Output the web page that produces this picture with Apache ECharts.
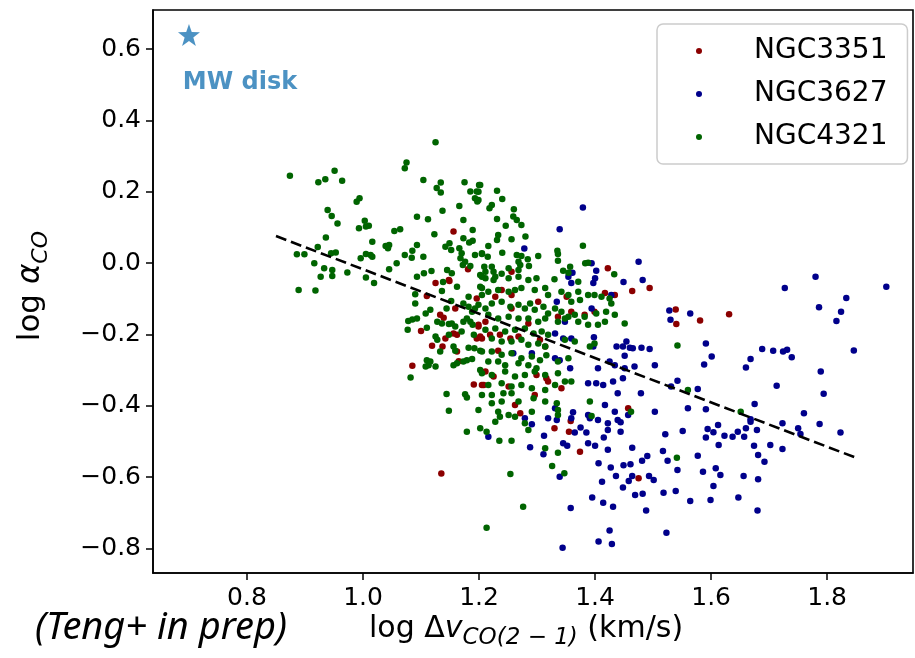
<!DOCTYPE html>
<html>
<head>
<meta charset="utf-8">
<script src="https://cdn.jsdelivr.net/npm/echarts@6/dist/echarts.min.js"></script>
<style>
html,body{margin:0;padding:0;background:#fff;}
#chart{width:915px;height:658px;}
</style>
</head>
<body>
<div id="chart"></div>
<script>
const seriesNames = ['NGC3351', 'NGC3627', 'NGC4321'];
const xTicks = [0.8, 1.0, 1.2, 1.4, 1.6, 1.8];
const yTicks = [-0.8, -0.6, -0.4, -0.2, 0.0, 0.2, 0.4, 0.6];
const mwDisk = [[0.700, 0.640]];
const fitX = [0.85, 1.85];
const fitY = [0.076, -0.546];

const ngc3351 = [
[1.156,0.089],[1.181,-0.017],[1.148,-0.047],[1.422,-0.014],[1.256,-0.024],
[1.125,-0.056],[1.149,-0.050],[1.110,-0.092],[1.159,-0.127],[1.196,-0.099],[1.100,-0.190],[1.139,-0.153],[1.133,-0.145],[1.162,-0.201],[1.156,-0.197],[1.199,-0.178],[1.196,-0.211],[1.205,-0.211],[1.142,-0.211],[1.119,-0.232],[1.137,-0.234],[1.162,-0.248],[1.085,-0.288],[1.165,-0.275],[1.191,-0.340],[1.205,-0.342],
[1.464,-0.078],[1.494,-0.070],[1.228,-0.094],[1.239,-0.075],[1.256,-0.089],[1.302,-0.108],[1.351,-0.094],[1.417,-0.084],[1.434,-0.089],[1.199,-0.173],[1.211,-0.164],[1.256,-0.127],[1.285,-0.169],[1.336,-0.150],[1.359,-0.136],[1.382,-0.145],[1.399,-0.136],[1.202,-0.206],[1.219,-0.201],[1.236,-0.201],[1.254,-0.211],[1.268,-0.206],[1.305,-0.215],[1.233,-0.246],[1.314,-0.234],[1.211,-0.304],[1.225,-0.318],[1.251,-0.346],[1.299,-0.314],[1.316,-0.323],[1.319,-0.332],[1.342,-0.351],[1.208,-0.342],[1.262,-0.398],[1.296,-0.370],[1.271,-0.421],[1.457,-0.407],
[1.539,-0.130],[1.540,-0.171],
[1.581,-0.161],[1.631,-0.143],[1.135,-0.590],[1.330,-0.463],[1.355,-0.473],[1.358,-0.443],[1.374,-0.529],[1.475,-0.603]
];

const ngc3627 = [
[1.278,0.041],[1.379,0.156],[1.339,0.095],[1.394,0.000],[1.402,-0.021],[1.475,0.004],[1.361,-0.027],[1.354,-0.038],[1.400,-0.042],[1.482,-0.047],[1.780,-0.038],
[1.359,-0.056],[1.397,-0.056],[1.449,-0.053],[1.334,-0.108],[1.394,-0.127],[1.428,-0.089],[1.348,-0.164],[1.331,-0.197],[1.345,-0.211],[1.359,-0.211],[1.398,-0.208],[1.397,-0.234],[1.437,-0.234],[1.448,-0.234],[1.460,-0.237],[1.465,-0.239],[1.480,-0.237],[1.494,-0.241],[1.451,-0.260],[1.454,-0.220],[1.259,-0.253],[1.291,-0.253],[1.331,-0.267],[1.339,-0.272],[1.357,-0.295],[1.405,-0.295],[1.425,-0.276],[1.434,-0.286],[1.451,-0.295],[1.468,-0.290],[1.503,-0.286],[1.388,-0.337],[1.402,-0.337],[1.414,-0.342],[1.431,-0.332],[1.448,-0.323],[1.479,-0.365],[1.439,-0.365],[1.542,-0.330],[1.531,-0.346],[1.331,-0.407],[1.362,-0.418],[1.388,-0.426],[1.417,-0.398],[1.434,-0.417],[1.457,-0.426],[1.503,-0.417],[1.560,-0.407],[1.279,-0.435],[1.319,-0.435],[1.359,-0.435],[1.391,-0.435],[1.439,-0.440],
[1.528,-0.133],[1.530,-0.159],
[1.727,-0.070],[1.902,-0.066],[1.833,-0.098],[1.824,-0.136],[1.816,-0.162],[1.786,-0.124],[1.564,-0.141],[1.591,-0.225],[1.601,-0.262],[1.588,-0.284],[1.688,-0.241],[1.707,-0.246],[1.724,-0.248],[1.731,-0.243],[1.739,-0.264],[1.668,-0.269],[1.660,-0.293],[1.846,-0.245],[1.789,-0.304],[1.713,-0.344],[1.794,-0.366],[1.577,-0.353],[1.675,-0.395],[1.760,-0.421],[1.591,-0.410],[1.668,-0.438],
[1.216,-0.487],[1.291,-0.452],[1.334,-0.440],[1.365,-0.475],[1.375,-0.461],[1.385,-0.475],[1.405,-0.440],[1.422,-0.449],[1.422,-0.468],[1.444,-0.446],[1.444,-0.473],[1.312,-0.484],[1.345,-0.505],[1.352,-0.512],[1.388,-0.505],[1.400,-0.512],[1.415,-0.489],[1.422,-0.523],[1.464,-0.518],[1.517,-0.527],[1.551,-0.471],[1.521,-0.480],[1.288,-0.516],[1.311,-0.536],[1.339,-0.599],[1.406,-0.561],[1.427,-0.573],[1.436,-0.597],[1.449,-0.567],[1.461,-0.564],[1.481,-0.554],[1.490,-0.541],[1.525,-0.554],[1.542,-0.580],[1.464,-0.597],[1.458,-0.611],[1.448,-0.629],[1.412,-0.613],[1.493,-0.597],[1.501,-0.608],[1.469,-0.650],[1.482,-0.647],[1.518,-0.644],[1.539,-0.639],[1.564,-0.667],[1.395,-0.657],[1.414,-0.672],[1.431,-0.683],[1.358,-0.687],[1.488,-0.694],[1.425,-0.750],[1.406,-0.781],[1.429,-0.788],[1.523,-0.756],[1.344,-0.798],
[1.668,-0.445],[1.660,-0.463],[1.679,-0.468],[1.646,-0.473],[1.637,-0.487],[1.657,-0.487],[1.623,-0.484],[1.612,-0.454],[1.604,-0.474],[1.594,-0.465],[1.591,-0.489],[1.613,-0.510],[1.674,-0.512],[1.681,-0.538],[1.692,-0.557],[1.702,-0.510],[1.723,-0.521],[1.723,-0.449],[1.750,-0.463],[1.754,-0.479],[1.787,-0.451],[1.823,-0.475],[1.577,-0.540],[1.608,-0.575],[1.616,-0.594],[1.586,-0.585],[1.604,-0.625],[1.656,-0.597],[1.681,-0.606],[1.647,-0.657],[1.599,-0.664],[1.680,-0.694]
];

const ngc4321 = [
[1.125,0.339],[0.874,0.245],[0.951,0.259],[0.923,0.227],[0.935,0.235],[0.964,0.231],[1.075,0.282],[1.072,0.266],[1.104,0.233],[1.134,0.226],[1.127,0.211],[1.134,0.198],[1.175,0.227],[1.200,0.219],[1.185,0.201],[1.196,0.201],[1.193,0.182],[1.197,0.173],[0.994,0.182],[0.989,0.172],[0.939,0.149],[0.946,0.132],[0.956,0.111],[1.003,0.119],[0.993,0.098],[1.005,0.103],[1.010,0.105],[1.093,0.130],[1.112,0.123],[1.137,0.147],[1.166,0.160],[1.173,0.121],[1.189,0.093],[1.123,0.081],[1.054,0.090],[1.064,0.095],[0.936,0.072],[1.016,0.060],[1.039,0.048],[1.045,0.051],[1.043,0.042],[1.093,0.051],[1.085,0.035],[1.072,0.023],[1.084,0.015],[1.104,0.018],[1.142,0.046],[1.149,0.056],[1.152,0.037],[1.166,0.042],[1.170,0.028],[1.168,0.014],[1.176,0.004],[1.172,-0.005],[1.173,0.070],[1.183,0.058],[1.189,0.063],[1.193,0.023],[1.205,0.028],[0.886,0.025],[0.899,0.025],[0.922,0.045],[0.945,0.028],[0.953,0.030],[0.916,0.000],[0.996,0.014],[1.005,0.026],[1.013,0.023],[1.016,0.018],[1.058,0.000],[1.045,-0.017],[0.973,-0.026],[0.933,-0.014],[0.947,-0.019],[0.927,-0.038],[0.947,-0.036],[1.005,-0.040],[1.093,-0.038],[1.105,-0.028],[1.118,-0.022],[1.145,-0.019],[1.153,-0.028],[1.185,-0.008],[1.202,-0.033],
[1.202,0.219],[1.199,0.200],[1.199,0.177],[1.231,0.203],[1.240,0.180],[1.222,0.163],[1.218,0.154],[1.260,0.151],[1.259,0.131],[1.265,0.121],[1.273,0.107],[1.231,0.124],[1.246,0.105],[1.233,0.079],[1.231,0.065],[1.256,0.067],[1.280,0.075],[1.216,0.048],[1.205,0.026],[1.215,0.018],[1.240,0.029],[1.265,0.023],[1.273,0.020],[1.284,0.011],[1.268,0.004],[1.271,-0.005],[1.268,-0.019],[1.286,-0.008],[1.302,0.020],[1.335,0.035],[1.336,0.026],[1.336,0.007],[1.379,0.049],[1.383,0.000],[1.388,0.001],[1.433,-0.031],[1.357,-0.010],[1.354,-0.027],[1.345,-0.021],[1.209,-0.010],[1.222,-0.010],[1.225,-0.024],[1.211,-0.024],[1.205,-0.038],[1.228,-0.038],[1.239,-0.030],[1.251,-0.014],[1.299,-0.042],[1.330,-0.045],
[0.889,-0.075],[0.918,-0.077],[1.019,-0.056],[1.138,-0.053],[1.162,-0.066],[1.090,-0.087],[1.090,-0.113],[1.136,-0.078],[1.152,-0.106],[1.144,-0.127],[1.173,-0.113],[1.182,-0.094],[1.182,-0.122],[1.188,-0.136],[1.193,-0.127],[1.205,-0.089],[1.202,-0.066],[1.108,-0.141],[1.116,-0.131],[1.078,-0.162],[1.085,-0.158],[1.093,-0.155],[1.077,-0.187],[1.110,-0.181],[1.128,-0.164],[1.136,-0.169],[1.148,-0.171],[1.153,-0.169],[1.159,-0.178],[1.170,-0.192],[1.173,-0.164],[1.179,-0.155],[1.185,-0.164],[1.189,-0.173],[1.191,-0.201],[1.125,-0.206],[1.128,-0.215],[1.148,-0.201],[1.133,-0.248],[1.156,-0.234],[1.159,-0.246],[1.182,-0.237],[1.192,-0.239],[1.202,-0.246],[1.082,-0.321],[1.110,-0.272],[1.116,-0.276],[1.108,-0.290],[1.113,-0.286],[1.125,-0.290],[1.156,-0.286],[1.162,-0.281],[1.173,-0.276],[1.179,-0.272],[1.188,-0.269],[1.202,-0.300],[1.144,-0.367],[1.176,-0.368],[1.179,-0.377],[1.205,-0.370],[1.148,-0.414],
[1.211,-0.042],[1.225,-0.047],[1.251,-0.042],[1.268,-0.038],[1.285,-0.047],[1.371,-0.052],
[1.205,-0.070],[1.216,-0.080],[1.233,-0.075],[1.251,-0.080],[1.262,-0.075],[1.273,-0.070],[1.296,-0.075],[1.314,-0.070],[1.319,-0.089],[1.342,-0.080],[1.354,-0.089],[1.371,-0.080],[1.374,-0.103],[1.359,-0.108],[1.388,-0.089],[1.399,-0.089],[1.411,-0.094],[1.425,-0.099],[1.428,-0.113],
[1.199,-0.117],[1.211,-0.127],[1.222,-0.113],[1.239,-0.108],[1.254,-0.122],[1.268,-0.117],[1.279,-0.127],[1.288,-0.113],[1.296,-0.131],[1.311,-0.122],[1.319,-0.141],[1.331,-0.127],[1.342,-0.136],[1.354,-0.150],[1.365,-0.145],[1.382,-0.150],[1.402,-0.141],[1.419,-0.136],[1.434,-0.145],[1.451,-0.169],
[1.216,-0.145],[1.233,-0.155],[1.251,-0.150],[1.268,-0.155],[1.285,-0.155],[1.302,-0.164],[1.314,-0.155],[1.336,-0.164],[1.348,-0.155],[1.371,-0.164],[1.388,-0.173],[1.405,-0.173],[1.417,-0.164],
[1.211,-0.187],[1.228,-0.183],[1.245,-0.192],[1.262,-0.187],[1.279,-0.183],[1.294,-0.197],[1.308,-0.192],[1.319,-0.201],[1.348,-0.215],[1.365,-0.220],[1.222,-0.211],[1.239,-0.220],[1.256,-0.220],[1.273,-0.215],[1.285,-0.229],[1.302,-0.225],[1.314,-0.234],[1.391,-0.234],[1.399,-0.225],[1.542,-0.231],
[1.205,-0.248],[1.222,-0.248],[1.239,-0.257],[1.256,-0.253],[1.273,-0.267],[1.291,-0.262],[1.305,-0.272],[1.316,-0.258],[1.216,-0.276],[1.233,-0.276],[1.245,-0.286],[1.268,-0.281],[1.285,-0.286],[1.299,-0.295],[1.336,-0.276],[1.354,-0.267],
[1.205,-0.309],[1.222,-0.314],[1.245,-0.304],[1.262,-0.318],[1.279,-0.314],[1.296,-0.304],[1.314,-0.314],[1.336,-0.309],[1.348,-0.332],[1.359,-0.332],[1.216,-0.342],[1.239,-0.337],[1.256,-0.346],[1.273,-0.342],[1.291,-0.351],[1.314,-0.356],[1.331,-0.342],[1.560,-0.356],
[1.222,-0.370],[1.242,-0.365],[1.256,-0.365],[1.222,-0.393],[1.239,-0.388],[1.268,-0.388],[1.294,-0.379],[1.314,-0.388],[1.334,-0.393],[1.336,-0.412],[1.233,-0.417],[1.251,-0.426],[1.291,-0.417],[1.336,-0.426],[1.199,-0.412],[1.391,-0.388],[1.462,-0.417],[1.651,-0.417],
[1.179,-0.473],[1.202,-0.463],[1.213,-0.473],[1.228,-0.445],[1.236,-0.431],[1.262,-0.431],[1.279,-0.449],[1.285,-0.468],[1.235,-0.498],[1.256,-0.498],[1.394,-0.429],[1.314,-0.519],[1.336,-0.532],[1.326,-0.569],[1.347,-0.589],[1.254,-0.591],[1.541,-0.546],[1.276,-0.683],[1.213,-0.742]
];

const colors = ['#8b0000', '#00008b', '#006400'];
const tickFmt = v => Number(v).toFixed(1).replace('-', '\u2212');
const font = 'DejaVu Sans';

const chart = echarts.init(document.getElementById('chart'), null, {renderer: 'canvas'});
const scatterBase = (name, data, color) => ({
  name: name, type: 'scatter', data: data, symbol: 'circle', symbolSize: 6.5,
  itemStyle: {color: color, opacity: 1}, z: 3, animation: false
});

chart.setOption({
  animation: false,
  backgroundColor: '#fff',
  grid: {left: 153, right: 2, top: 10, bottom: 85, show: true, borderColor: '#000', borderWidth: 1.6, backgroundColor: 'transparent'},
  xAxis: {
    type: 'value', min: 0.638, max: 1.948,
    axisLine: {show: true, onZero: false, lineStyle: {color: '#000', width: 1.6}},
    axisTick: {show: true, length: 7, lineStyle: {color: '#000', width: 1.5}, customValues: xTicks},
    axisLabel: {color: '#000', fontSize: 25, fontFamily: font, margin: 13, customValues: xTicks, formatter: tickFmt},
    splitLine: {show: false}
  },
  yAxis: {
    type: 'value', min: -0.869, max: 0.710,
    axisLine: {show: true, onZero: false, lineStyle: {color: '#000', width: 1.6}},
    axisTick: {show: true, length: 7, lineStyle: {color: '#000', width: 1.5}, customValues: yTicks},
    axisLabel: {color: '#000', fontSize: 25, fontFamily: font, margin: 12, customValues: yTicks, formatter: tickFmt},
    splitLine: {show: false}
  },
  legend: {
    data: seriesNames,
    orient: 'vertical', left: 657, top: 24,
    padding: [13, 20, 13, 39], itemGap: 15,
    itemWidth: 6, itemHeight: 6, icon: 'circle',
    backgroundColor: 'rgba(255,255,255,0.85)', borderColor: '#cccccc', borderWidth: 1.5, borderRadius: 6,
    textStyle: {fontSize: 28, fontFamily: font, color: '#000', lineHeight: 28, padding: [0, 0, 0, 47]}
  },
  graphic: [
    {type: 'text', left: 15, top: 231, rotation: Math.PI / 2,
     style: {text: 'log {a|\u03b1}{s|CO}', fill: '#000', font: '31px "DejaVu Sans"',
       rich: {a: {fontSize: 31, fontStyle: 'italic', fontFamily: font, lineHeight: 43},
              s: {fontSize: 22, fontStyle: 'italic', fontFamily: font, verticalAlign: 'bottom', lineHeight: 22}}}},
    {type: 'text', left: 369, top: 614,
     style: {text: 'log \u0394{v|v}{s|CO(2 \u2212 1)} (km/s)', fill: '#000', font: '30px "DejaVu Sans"',
       rich: {v: {fontSize: 30, fontStyle: 'italic', fontFamily: font, lineHeight: 42},
              s: {fontSize: 23, fontStyle: 'italic', fontFamily: font, verticalAlign: 'bottom', lineHeight: 22}}}},
    {type: 'text', left: 35, top: 609,
     style: {text: '(Teng+ in prep)', fill: '#000', font: 'italic 38px "Noto Sans"'}}
  ],
  series: [
    scatterBase(seriesNames[0], ngc3351, colors[0]),
    scatterBase(seriesNames[1], ngc3627, colors[1]),
    scatterBase(seriesNames[2], ngc4321, colors[2]),
    {
      name: 'fit', type: 'line', data: fitX.map((x, i) => [x, fitY[i]]),
      symbol: 'none', lineStyle: {color: '#000', width: 2.6, type: [11, 5]}, z: 4, silent: true
    },
    {
      name: 'MW disk', type: 'scatter', data: mwDisk, symbolSize: 22,
      symbol: 'path://M50,2 L62,36 L98,37 L69,59 L80,94 L50,73 L20,94 L31,59 L2,37 L38,36 Z',
      itemStyle: {color: '#1f77b4'}, z: 5,
      label: {show: true, position: 'bottom', formatter: 'MW disk', color: '#1f77b4',
        fontWeight: 'bold', fontSize: 24, fontFamily: font, offset: [51, 20]}
    }
  ]
});
</script>
</body>
</html>
